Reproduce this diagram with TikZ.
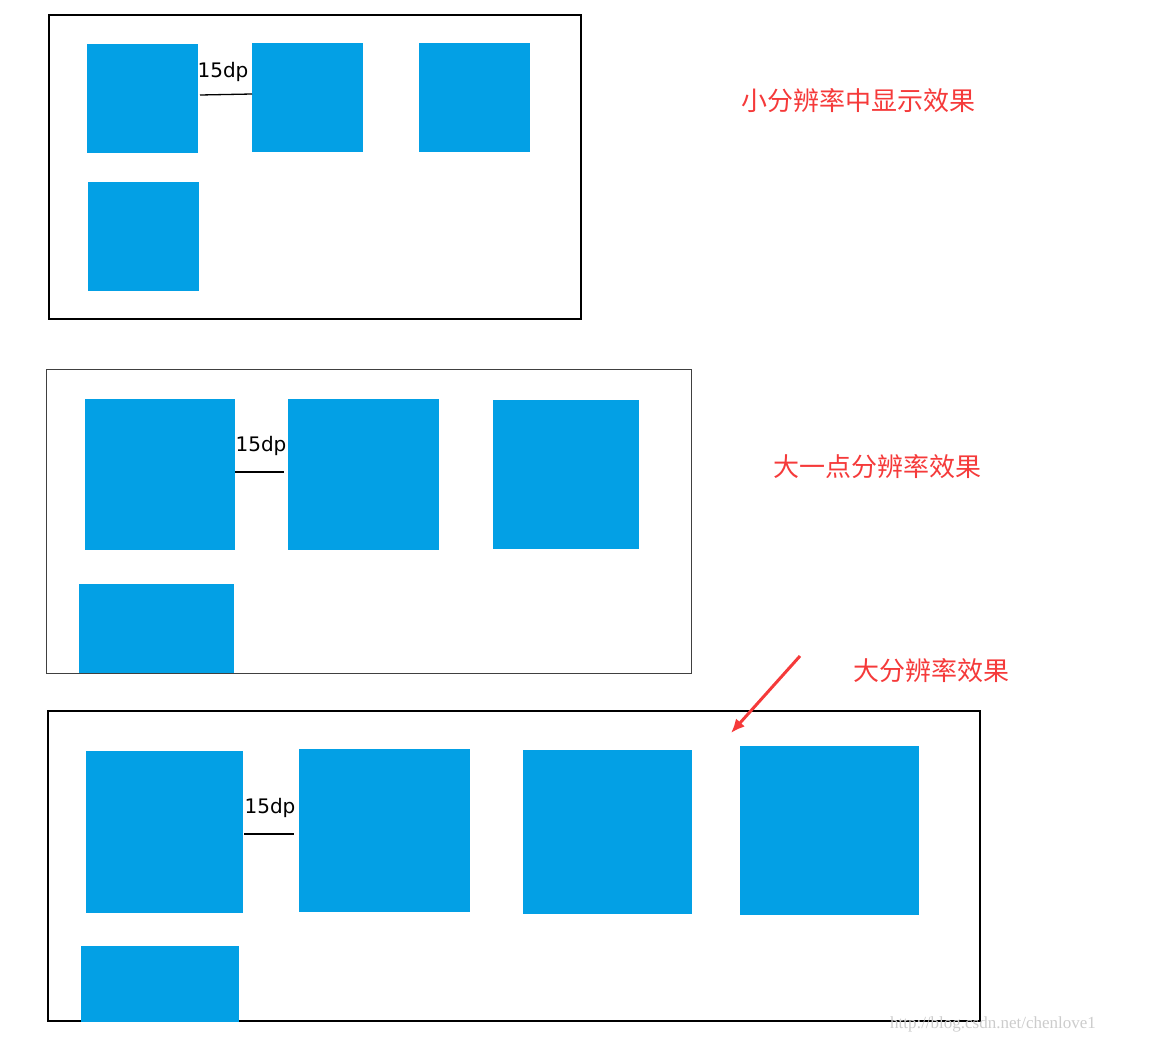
\documentclass[tikz,border=0pt]{standalone}
\usepackage{fontspec}
\setmainfont{DejaVu Sans}
\newfontfamily\cjk{Noto Sans CJK SC}
\newfontfamily\wmfont{Liberation Serif}
\usetikzlibrary{positioning}
\usetikzlibrary{arrows.meta}
\definecolor{tileblue}{HTML}{03A0E5}
\definecolor{notered}{HTML}{F53A3A}
\tikzset{
  panel/.style={draw, line width=1.5pt},
  tile/.style={fill=tileblue, inner sep=0pt, anchor=north west},
  gap/.style={line width=1.3pt},
  dplabel/.style={font=\fontsize{20}{22}\selectfont, inner sep=0pt},
  note/.style={text=notered, font=\cjk\fontsize{26}{28}\selectfont}
}
\newcommand{\tileat}[5]{\node[tile, minimum width=#4pt, minimum height=#5pt] (#1) at (#2,#3) {};}
\begin{document}
\begin{tikzpicture}[x=1pt,y=-1pt]
  \useasboundingbox (0,0) rectangle (1154,1044);

  % small resolution
  \draw[panel] (49,15) rectangle (581,319);
  \tileat{s1}{87}{44}{111}{109}
  \tileat{s2}{252}{43}{111}{109}
  \tileat{s3}{419}{43}{111}{109}
  \tileat{s4}{88}{182}{111}{109}
  \coordinate (sa) at (200,95);
  \coordinate (sb) at (252,94);
  \draw[gap] (sa) -- (sb);
  \node[dplabel] (sl) at (223,72) {15dp};
  \node[note] (n1) at (858,101) {小分辨率中显示效果};

  % medium resolution
  \draw[panel, line width=1pt, draw=black!75] (46,369) rectangle (691,673);
  \tileat{m1}{85}{399}{150}{151}
  \tileat{m2}{288}{399}{151}{151}
  \tileat{m3}{493}{400}{146}{149}
  \tileat{m4}{79}{584}{155}{89}
  \coordinate (ma) at (235,472);
  \coordinate (mb) at (284,472);
  \draw[gap] (ma) -- (mb);
  \node[dplabel] (ml) at (261,446) {15dp};
  \node[note] (n2) at (877,467) {大一点分辨率效果};

  % large resolution
  \draw[panel] (48,711) rectangle (980,1021);
  \tileat{l1}{86}{751}{157}{162}
  \tileat{l2}{299}{749}{171}{163}
  \tileat{l3}{523}{750}{169}{164}
  \tileat{l4}{740}{746}{179}{169}
  \tileat{l5}{81}{946}{158}{76}
  \coordinate (la) at (244,834);
  \coordinate (lb) at (294,834);
  \draw[gap] (la) -- (lb);
  \node[dplabel] (ll) at (270,808) {15dp};
  \node[note] (n3) at (931,671) {大分辨率效果};
  \coordinate (ta) at (800,656);
  \coordinate (tb) at (731,733);
  \draw[notered, line width=3pt, -{Latex[length=14pt,width=12pt]}] (ta) -- (tb);

  \node[text=black!20, font=\wmfont\fontsize{17}{18}\selectfont] (wm) at (993,1024) {http://blog.csdn.net/chenlove1};
\end{tikzpicture}
\end{document}
